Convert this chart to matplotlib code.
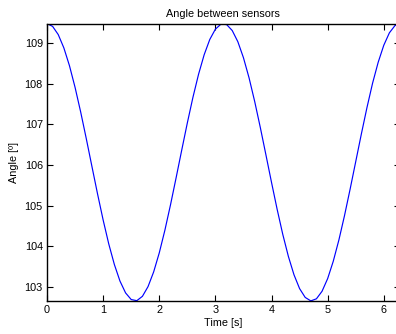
import matplotlib.pyplot as plt

plt.rcParams['font.family'] = ['Liberation Sans', 'DejaVu Sans']

# tiempo [s] y ángulo
time = [0.0, 0.1, 0.2, 0.3, 0.4, 0.5, 0.6, 0.7, 0.8, 0.9,
        1.0, 1.1, 1.2, 1.3, 1.4, 1.5, 1.6, 1.7, 1.8, 1.9,
        2.0, 2.1, 2.2, 2.3, 2.4, 2.5, 2.6, 2.7, 2.8, 2.9,
        3.0, 3.1, 3.2, 3.3, 3.4, 3.5, 3.6, 3.7, 3.8, 3.9,
        4.0, 4.1, 4.2, 4.3, 4.4, 4.5, 4.6, 4.7, 4.8, 4.9,
        5.0, 5.1, 5.2, 5.3, 5.4, 5.5, 5.6, 5.7, 5.8, 5.9,
        6.0, 6.1, 6.2, 6.28]
angle = [109.476, 109.408, 109.207, 108.880, 108.442, 107.908, 107.302, 106.646, 105.966, 105.291,
         104.647, 104.059, 103.552, 103.144, 102.853, 102.690, 102.662, 102.769, 103.008, 103.369,
         103.837, 104.394, 105.018, 105.684, 106.364, 107.033, 107.664, 108.230, 108.711, 109.086,
         109.340, 109.464, 109.453, 109.306, 109.031, 108.637, 108.141, 107.562, 106.923, 106.250,
         105.570, 104.910, 104.295, 103.752, 103.300, 102.959, 102.742, 102.657, 102.708, 102.893,
         103.205, 103.632, 104.154, 104.753, 105.404, 106.081, 106.759, 107.409, 108.009, 108.524,
         108.944, 109.250, 109.429, 109.476]

fig = plt.figure(figsize=(3.96, 3.34), dpi=100)
ax = fig.add_axes([47/396, 33/334, 352.5/396, 277.5/334])
ax.plot(time, angle, color='#0000ff', lw=0.85)

ax.set_xlim(0, 6.28)
ax.set_ylim(min(angle) - 0.003, max(angle) + 0.003)
ax.set_xticks(range(0, 7))
ax.set_yticks(range(103, 110))
ax.tick_params(direction='in', length=4, width=0.8, labelsize=7.8, top=True, right=True, pad=3)
for s in ax.spines.values():
    s.set_linewidth(1.0)

ax.set_title('Angle between sensors', fontsize=7.8, pad=5)
ax.set_xlabel('Time [s]', fontsize=7.8, labelpad=2)
ax.set_ylabel('Angle [º]', fontsize=7.8, labelpad=4)

fig.savefig('out.png', dpi=100)
